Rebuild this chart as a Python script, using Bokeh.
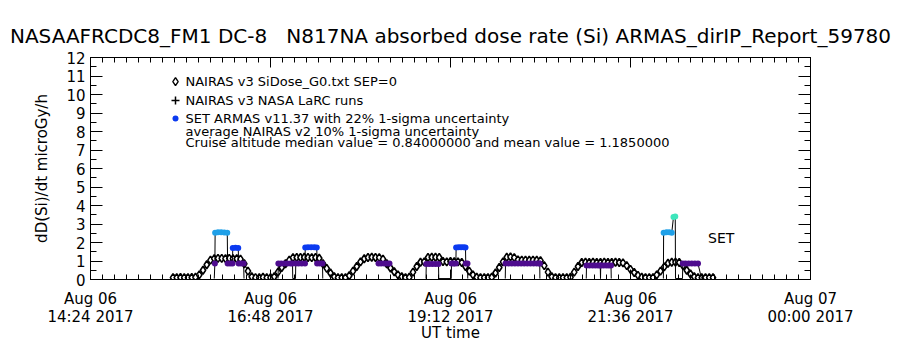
from datetime import datetime
from bokeh.plotting import figure
from bokeh.models import (Range1d, FixedTicker, DatetimeAxis, LinearAxis,
                          DatetimeTickFormatter, ColumnDataSource, Label)
from bokeh.transform import linear_cmap
from bokeh.embed import file_html
from bokeh.resources import INLINE

# ---------------- data ----------------
nairas_time = [
    "15:30", "15:33", "15:36", "15:39", "15:42", "15:45", "15:48",
    "15:51", "15:54", "15:57", "16:00",
    "16:03", "16:06", "16:09", "16:12", "16:15", "16:18", "16:21", "16:24",
    "16:27", "16:30", "16:33",
    "16:36", "16:39", "16:42", "16:45", "16:48",
    "16:51", "16:54", "16:57", "17:00", "17:03",
    "17:06", "17:09", "17:12", "17:15", "17:18", "17:21", "17:24", "17:27",
    "17:30", "17:33", "17:36", "17:39",
    "17:42", "17:45", "17:48",
    "17:51", "17:54", "17:57", "18:00", "18:03",
    "18:06", "18:09", "18:12", "18:15", "18:18",
    "18:21", "18:24", "18:27", "18:30", "18:33",
    "18:36", "18:39",
    "18:42", "18:45",
    "18:48", "18:51",
    "18:54", "18:57", "19:00", "19:03",
    "19:06", "19:09", "19:12", "19:15", "19:18", "19:21",
    "19:24", "19:27", "19:30", "19:33",
    "19:36", "19:39", "19:42", "19:45",
    "19:48", "19:51", "19:54",
    "19:57", "20:00", "20:03",
    "20:06", "20:09", "20:12", "20:15", "20:18", "20:21", "20:24",
    "20:27", "20:30", "20:33",
    "20:36", "20:39", "20:42", "20:45", "20:48",
    "20:51", "20:54",
    "20:57", "21:00", "21:03", "21:06", "21:09", "21:12", "21:15", "21:18",
    "21:21", "21:24", "21:27", "21:30",
    "21:33", "21:36", "21:39", "21:42", "21:45",
    "21:48", "21:51", "21:54",
    "21:57", "22:00", "22:03", "22:06",
    "22:09", "22:12", "22:15",
    "22:18", "22:21", "22:24", "22:27",
    "22:30", "22:33", "22:36", "22:39", "22:42",
]
nairas_dose = [
    0.10, 0.10, 0.11, 0.10, 0.10, 0.11, 0.12,
    0.25, 0.50, 0.80, 1.05,
    1.13, 1.14, 1.14, 1.13, 1.14, 1.13, 1.12, 1.10,
    0.85, 0.45, 0.15,
    0.10, 0.10, 0.12, 0.10, 0.10,
    0.15, 0.40, 0.65, 0.85, 1.05,
    1.18, 1.19, 1.19, 1.20, 1.19, 1.18, 1.19, 1.15,
    0.85, 0.60, 0.35, 0.15,
    0.10, 0.10, 0.10,
    0.20, 0.45, 0.70, 0.95, 1.12,
    1.19, 1.20, 1.19, 1.18, 1.10,
    0.85, 0.62, 0.42, 0.25, 0.15,
    0.10, 0.12,
    0.40, 0.70,
    0.93, 0.95,
    1.19, 1.20, 1.20, 1.19,
    0.97, 0.95, 0.97, 0.96, 0.95, 0.92,
    0.70, 0.45, 0.25, 0.12,
    0.10, 0.10, 0.10, 0.12,
    0.35, 0.65, 0.95,
    1.20, 1.22, 1.18,
    1.06, 1.05, 1.05, 1.04, 1.05, 1.04, 1.02,
    0.75, 0.40, 0.15,
    0.10, 0.10, 0.10, 0.10, 0.12,
    0.40, 0.70,
    0.92, 0.93, 0.92, 0.93, 0.92, 0.92, 0.93, 0.92,
    0.92, 0.93, 0.92, 0.90,
    0.75, 0.55, 0.38, 0.22, 0.12,
    0.10, 0.10, 0.10,
    0.25, 0.45, 0.68, 0.88,
    0.93, 0.94, 0.92,
    0.75, 0.50, 0.30, 0.15,
    0.10, 0.10, 0.10, 0.10, 0.10,
]

armas_flight = (
    [1] * 17 + [2] * 22 + [3] * 5 + [4] * 19 + [5] * 15 + [6] * 14 + [7] * 16
)
armas_time = [
    # flight 1
    "16:03:00", "16:03:30", "16:03:42", "16:06:00", "16:08:30", "16:11:00",
    "16:13:24", "16:13:42", "16:15:42", "16:17:36", "16:17:48", "16:20:00",
    "16:22:12", "16:22:30", "16:24:30", "16:26:30", "16:26:48",
    # flight 2
    "16:54:00", "16:54:18", "16:56:30", "16:59:00", "17:01:30", "17:04:00",
    "17:05:36", "17:05:48", "17:08:00", "17:08:12", "17:10:30", "17:13:00",
    "17:15:36", "17:15:48", "17:18:00", "17:20:30", "17:23:00", "17:25:00",
    "17:25:18", "17:27:30", "17:29:36", "17:29:48",
    # flight 3
    "18:14:24", "18:16:30", "18:19:00", "18:21:12", "18:23:12",
    # flight 4
    "18:52:24", "18:52:36", "18:55:00", "18:57:30", "19:00:00", "19:02:24",
    "19:02:36", "19:12:36", "19:12:48", "19:14:30", "19:16:18", "19:16:30",
    "19:18:30", "19:20:30", "19:22:30", "19:24:00", "19:24:12", "19:25:36",
    "19:25:48",
    # flight 5
    "19:55:48", "19:56:00", "19:58:30", "20:01:00", "20:03:30", "20:06:00",
    "20:08:30", "20:11:00", "20:13:30", "20:16:00", "20:18:30", "20:21:00",
    "20:23:12", "20:23:24", "20:23:30",
    # flight 6
    "21:00:36", "21:00:48", "21:03:12", "21:05:36", "21:07:48", "21:10:00",
    "21:11:48", "21:12:00", "21:12:12", "21:14:24", "21:16:36", "21:18:36",
    "21:20:24", "21:20:36",
    # flight 7
    "22:02:18", "22:02:30", "22:04:48", "22:07:00", "22:09:00", "22:10:24",
    "22:11:48", "22:12:00", "22:17:36", "22:17:48", "22:20:00", "22:22:30",
    "22:25:00", "22:27:30", "22:30:00", "22:32:48",
]
armas_dose = [
    # flight 1
    0.05, 0.86, 2.53, 2.55, 2.55, 2.54,
    2.53, 0.86, 0.86, 0.86, 1.70, 1.72,
    1.70, 0.86, 0.86, 0.86, 0.05,
    # flight 2
    0.05, 0.86, 0.86, 0.86, 0.86, 0.86,
    0.86, 0.05, 0.05, 0.86, 0.86, 0.86,
    0.86, 1.73, 1.75, 1.75, 1.75, 1.73,
    0.86, 0.86, 0.86, 0.05,
    # flight 3
    0.86, 0.86, 0.86, 0.86, 0.86,
    # flight 4
    0.05, 0.84, 0.84, 0.84, 0.84, 0.84,
    0.05, 0.05, 0.86, 0.86, 0.86, 1.73,
    1.75, 1.75, 1.75, 1.73, 0.86, 0.86,
    0.05,
    # flight 5
    0.05, 0.86, 0.86, 0.86, 0.86, 0.86,
    0.86, 0.86, 0.86, 0.86, 0.86, 0.86,
    0.86, 0.86, 0.05,
    # flight 6
    0.05, 0.76, 0.76, 0.76, 0.76, 0.76,
    0.76, 0.05, 0.76, 0.76, 0.76, 0.76,
    0.76, 0.05,
    # flight 7
    0.05, 2.53, 2.55, 2.55, 2.53, 3.38,
    3.40, 0.05, 0.05, 0.86, 0.86, 0.86,
    0.86, 0.86, 0.86, 0.05,
]

x_tick_labels_at = ["14:24", "16:48", "19:12", "21:36", "24:00"]
y_ticks = [0, 1, 2, 3, 4, 5, 6, 7, 8, 9, 10, 11, 12]

title_text = ("NASAAFRCDC8_FM1 DC-8\u00a0\u00a0\u00a0N817NA absorbed dose rate (Si) "
              "ARMAS_dirIP_Report_59780")
legend_lines = [
    "NAIRAS v3 SiDose_G0.txt SEP=0",
    "NAIRAS v3 NASA LaRC runs",
    "SET ARMAS v11.37 with 22% 1-sigma uncertainty",
    "average NAIRAS v2 10% 1-sigma uncertainty",
    "Cruise altitude median value = 0.84000000 and mean value = 1.1850000",
]

# ---------------- helpers ----------------
EPOCH = datetime(1970, 1, 1)


def to_dt(s):
    parts = [int(v) for v in s.split(":")]
    while len(parts) < 3:
        parts.append(0)
    h, m, sec = parts
    day = 6
    if h >= 24:
        h -= 24
        day = 7
    return datetime(2017, 8, day, h, m, sec)


def to_ms(dt):
    return (dt - EPOCH).total_seconds() * 1000.0


FONT = "DejaVu Sans"
PURPLE = "#4e0c8e"
BLUE = "#0b3af0"
LIGHTBLUE = "#1fa0e8"
CYAN = "#3ee6bc"
GROUND = "rgba(0,0,0,0)"

x_start = to_dt("14:24")
x_end = to_dt("24:00")

p = figure(width=900, height=350, x_axis_type="datetime",
           x_range=Range1d(x_start, x_end), y_range=Range1d(0, 12),
           output_backend="svg", toolbar_location=None,
           min_border_left=90, min_border_right=90,
           min_border_top=57, min_border_bottom=71)
p.grid.visible = False
p.outline_line_color = "black"
p.outline_line_width = 1
p.background_fill_color = "white"
p.border_fill_color = "white"

p.title.text = title_text
p.title.align = "center"
p.title.text_font = FONT
p.title.text_font_size = "20px"
p.title.text_font_style = "normal"
p.title.text_color = "black"
p.title.standoff = 20

# ticks
major_ms = [to_ms(to_dt(s)) for s in x_tick_labels_at]
step = (major_ms[1] - major_ms[0]) / 15.0
minor_ms = [major_ms[0] + i * step for i in range(int(round((major_ms[-1] - major_ms[0]) / step)) + 1)]
xticker = FixedTicker(ticks=major_ms, minor_ticks=minor_ms)
yticker = FixedTicker(ticks=y_ticks, minor_ticks=[v / 2 for v in range(0, 25)])

fmt_str = "%b %d\n%H:%M %Y"
xfmt = DatetimeTickFormatter(microseconds=fmt_str, milliseconds=fmt_str, seconds=fmt_str,
                             minsec=fmt_str, minutes=fmt_str, hourmin=fmt_str,
                             hours=fmt_str, days=fmt_str, months=fmt_str, years=fmt_str)


def style_axis(ax, major_in, minor_in):
    ax.axis_line_color = "black"
    ax.major_tick_line_color = "black"
    ax.minor_tick_line_color = "black"
    ax.major_tick_in = major_in
    ax.major_tick_out = 0
    ax.minor_tick_in = minor_in
    ax.minor_tick_out = 0
    ax.major_label_text_font = FONT
    ax.major_label_text_color = "black"
    ax.axis_label_text_font = FONT
    ax.axis_label_text_font_style = "normal"
    ax.axis_label_text_color = "black"


xa = p.xaxis[0]
xa.ticker = xticker
xa.formatter = xfmt
style_axis(xa, 10, 5)
xa.major_label_text_font_size = "15px"
xa.major_label_text_line_height = 1.0
xa.major_label_standoff = 10
xa.axis_label = "UT time"
xa.axis_label_text_font_size = "15px"
xa.axis_label_standoff = -5

ya = p.yaxis[0]
ya.ticker = yticker
style_axis(ya, 12, 6)
ya.major_label_text_font_size = "15px"
ya.major_label_standoff = 5
ya.axis_label = "dD(Si)/dt microGy/h"
ya.axis_label_text_font_size = "15px"
ya.axis_label_standoff = 12

top = DatetimeAxis(ticker=xticker, formatter=xfmt)
style_axis(top, 10, 5)
top.major_label_text_font_size = "0px"
p.add_layout(top, "above")

right = LinearAxis(ticker=yticker)
style_axis(right, 12, 6)
right.major_label_text_font_size = "0px"
p.add_layout(right, "right")

# ---------------- NAIRAS ----------------
nsrc = ColumnDataSource(dict(t=[to_dt(s) for s in nairas_time], d=nairas_dose))
p.line("t", "d", source=nsrc, line_color="black", line_width=1.2)
p.scatter("t", "d", source=nsrc, marker="diamond", size=8,
          fill_color="white", line_color="black", line_width=1.6)

# ---------------- ARMAS ----------------
flights = sorted(set(armas_flight))
for f in flights:
    idx = [i for i, v in enumerate(armas_flight) if v == f]
    p.line([to_dt(armas_time[i]) for i in idx], [armas_dose[i] for i in idx],
           line_color="black", line_width=1)
asrc = ColumnDataSource(dict(t=[to_dt(s) for s in armas_time], d=armas_dose))
p.scatter("t", "d", source=asrc, marker="circle", size=6, line_color=None,
          fill_color=linear_cmap("d", [GROUND, PURPLE, BLUE, LIGHTBLUE, CYAN],
                                 low=-0.45, high=3.8))

# ---------------- legend (drawn as in the original) ----------------
leg_x_sym = to_dt("15:32")
leg_x_txt = to_ms(to_dt("15:40"))
leg_y = [10.70, 9.68, 8.70, 8.00, 7.41]
p.scatter([leg_x_sym], [leg_y[0]], marker="diamond", size=8, fill_color="white",
          line_color="black", line_width=1.4)
p.scatter([leg_x_sym], [leg_y[1]], marker="cross", size=8, line_color="black", line_width=1.5)
p.scatter([leg_x_sym], [leg_y[2]], marker="circle", size=6, fill_color=BLUE, line_color=None)
for txt, yy in zip(legend_lines, leg_y):
    p.add_layout(Label(x=leg_x_txt, y=yy, text=txt, text_baseline="middle",
                       text_font=FONT, text_font_size="13px", text_color="black"))

p.add_layout(Label(x=to_ms(to_dt("22:38")), y=2.27, text="SET", text_baseline="middle",
                   text_font=FONT, text_font_size="14px", text_color="black"))

open("out.html", "w").write(file_html(p, INLINE))
